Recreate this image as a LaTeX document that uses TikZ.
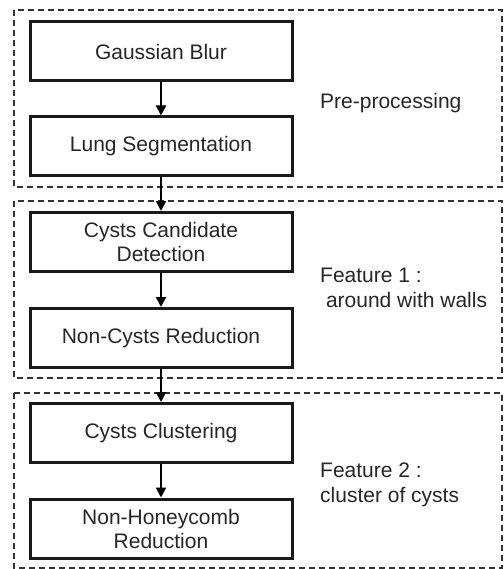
\documentclass[tikz,border=0pt]{standalone}
\usepackage{fontspec}
\setmainfont{Liberation Sans}
\usetikzlibrary{arrows.meta}
\begin{document}
\begin{tikzpicture}[x=1pt,y=-1pt,
  stepbox/.style={draw=black!90,line width=3pt,minimum width=262pt,minimum height=59pt,inner sep=0pt,align=center,font=\fontsize{21}{24}\selectfont,text=black!85},
  frame/.style={draw=black!80,line width=1.8pt,dash pattern=on 6pt off 4pt},
  lbl/.style={anchor=west,align=left,font=\fontsize{21}{25}\selectfont,text=black!85,inner sep=0pt},
  conn/.style={draw=black,line width=2pt,-{Triangle[width=10pt,length=10pt]}}]
\useasboundingbox (0,0) rectangle (503,569);
\fill[white] (0,0) rectangle (503,569);
\draw[frame] (14,10) rectangle (502,187);
\draw[frame] (14,201) rectangle (502,378);
\draw[frame] (14,393) rectangle (502,568);
\node[stepbox] (gb) at (161,51.5) {Gaussian Blur};
\node[stepbox] (ls) at (161,146.5) {Lung Segmentation};
\node[stepbox] (cc) at (161,242) {Cysts Candidate\\Detection};
\node[stepbox] (nc) at (161,338) {Non-Cysts Reduction};
\node[stepbox] (cl) at (161,433) {Cysts Clustering};
\node[stepbox] (nh) at (161,528.5) {Non-Honeycomb\\Reduction};
\node[lbl] (pp) at (320,103) {Pre-processing};
\node[lbl] (f1) at (320,287.5) {Feature 1 :\\\ around with walls};
\node[lbl] (f2) at (320,484.5) {Feature 2 :\\cluster of cysts};
\draw[conn] (gb) -- (ls);
\draw[conn] (ls) -- (cc);
\draw[conn] (cc) -- (nc);
\draw[conn] (nc) -- (cl);
\draw[conn] (cl) -- (nh);
\end{tikzpicture}
\end{document}
